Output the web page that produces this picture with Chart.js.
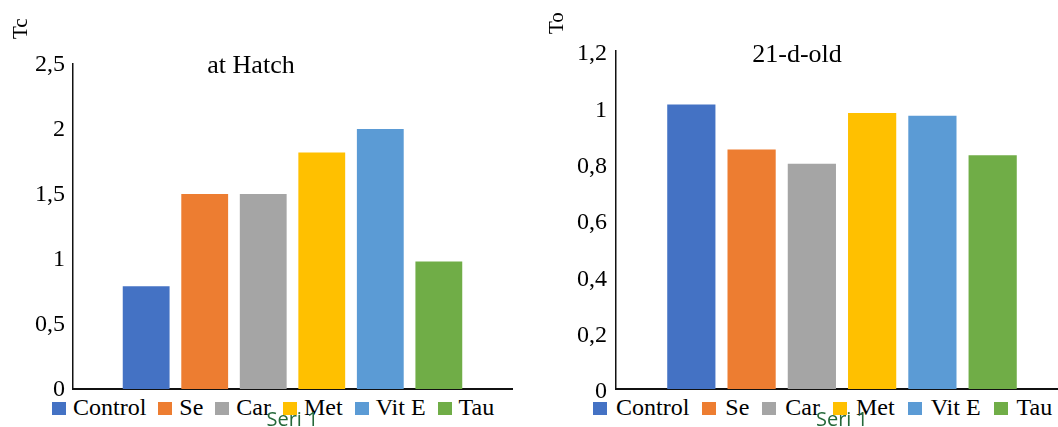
<!DOCTYPE html>
<html><head><meta charset="utf-8">
<script src="https://cdn.jsdelivr.net/npm/chart.js@4"></script>
<style>
html,body{margin:0;padding:0;width:1058px;height:427px;overflow:hidden;background:#fff;}
#wrap{position:relative;width:1058px;height:427px;overflow:hidden;}
canvas{position:absolute;top:0;z-index:2;}
#c1{left:0;}
#c2{left:530px;}
.legend{position:absolute;top:395px;z-index:1;display:flex;font-family:"Liberation Serif";font-size:24px;line-height:24px;color:#000;white-space:nowrap;}
.legend .item{display:flex;align-items:flex-start;}
.legend .box{width:14px;height:13px;margin-top:7px;}
</style></head>
<body><div id="wrap">
<canvas id="c1" width="530" height="427"></canvas>
<canvas id="c2" width="540" height="427"></canvas>
<div class="legend" id="lg1" style="left:52px"></div>
<div class="legend" id="lg2" style="left:593px"></div>
</div>
<script>
const seriesNames = ['Control', 'Se', 'Car', 'Met', 'Vit E', 'Tau'];
const seriesColors = ['#4472C4', '#ED7D31', '#A5A5A5', '#FFC000', '#5B9BD5', '#70AD47'];
const categoryLabels = ['Seri 1'];
const hatchValues = [0.79, 1.5, 1.5, 1.82, 2.0, 0.98];
const day21Values = [1.01, 0.85, 0.80, 0.98, 0.97, 0.83];
const hatchTicks = ['0', '0,5', '1', '1,5', '2', '2,5'];
const day21Ticks = ['0', '0,2', '0,4', '0,6', '0,8', '1', '1,2'];
const chartTitles = ['at Hatch', '21-d-old'];
const axisTitles = ['Tc', 'To'];

Chart.defaults.font.family = '"Liberation Serif"';
Chart.defaults.color = '#000';

const textPlugin = {
  id: 'texts',
  afterDraw(chart, args, o) {
    const ctx = chart.ctx;
    ctx.save();
    ctx.fillStyle = '#000';
    ctx.font = '26px "Liberation Serif"';
    ctx.textAlign = 'center';
    ctx.textBaseline = 'alphabetic';
    ctx.fillText(o.title, o.titleX, o.titleY);
    ctx.translate(o.axisX, o.axisY);
    ctx.rotate(-Math.PI / 2);
    ctx.font = '21px "Liberation Serif"';
    ctx.textAlign = 'left';
    ctx.fillText(o.axisTitle, 0, 0);
    ctx.restore();
  }
};

function makeChart(id, values, ticks, max, step, yWidth, yPad, yOff, padTop, padRight, t) {
  return new Chart(document.getElementById(id), {
    type: 'bar',
    data: {
      labels: categoryLabels,
      datasets: seriesNames.map((n, i) => ({
        label: n,
        data: [values[i]],
        backgroundColor: seriesColors[i],
        borderWidth: 0
      }))
    },
    options: {
      responsive: false,
      animation: false,
      devicePixelRatio: 1,
      categoryPercentage: 0.8,
      barPercentage: 0.8,
      layout: { padding: { top: padTop, right: padRight, left: 0, bottom: 0 } },
      plugins: {
        legend: { display: false },
        tooltip: { enabled: false },
        texts: t
      },
      scales: {
        x: {
          z: 1,
          grid: { display: false, drawTicks: false },
          border: { display: true, color: '#111', width: 2 },
          ticks: { color: '#25693A', font: { family: '"Open Sans"', size: 20 }, padding: 19 },
          afterFit: s => { s.height = 38; }
        },
        y: {
          min: 0, max: max,
          grid: { display: false, drawTicks: false },
          border: { display: true, color: '#111', width: 1.5 },
          ticks: {
            stepSize: step,
            padding: yPad,
            labelOffset: yOff,
            font: { size: 24 },
            color: '#000',
            callback: (v, i) => ticks[i]
          },
          afterFit: s => { s.width = yWidth; }
        }
      }
    },
    plugins: [textPlugin]
  });
}

makeChart('c1', hatchValues, hatchTicks, 2.5, 0.5, 73, 8, 1, 64, 18,
  { title: chartTitles[0], titleX: 251, titleY: 73, axisTitle: axisTitles[0], axisX: 27, axisY: 39 });
makeChart('c2', day21Values, day21Ticks, 1.2, 0.2, 86, 9, 3, 51, 2,
  { title: chartTitles[1], titleX: 267, titleY: 62, axisTitle: axisTitles[1], axisX: 33, axisY: 34 });

function buildLegend(id, gapBox, gapItem) {
  const el = document.getElementById(id);
  seriesNames.forEach((n, i) => {
    const it = document.createElement('div');
    it.className = 'item';
    if (i < seriesNames.length - 1) it.style.marginRight = gapItem + 'px';
    const b = document.createElement('div');
    b.className = 'box';
    b.style.background = seriesColors[i];
    b.style.marginRight = gapBox + 'px';
    const s = document.createElement('span');
    s.textContent = n;
    it.appendChild(b); it.appendChild(s);
    el.appendChild(it);
  });
}
buildLegend('lg1', 7, 12);
buildLegend('lg2', 9, 13);
</script>
</body></html>
